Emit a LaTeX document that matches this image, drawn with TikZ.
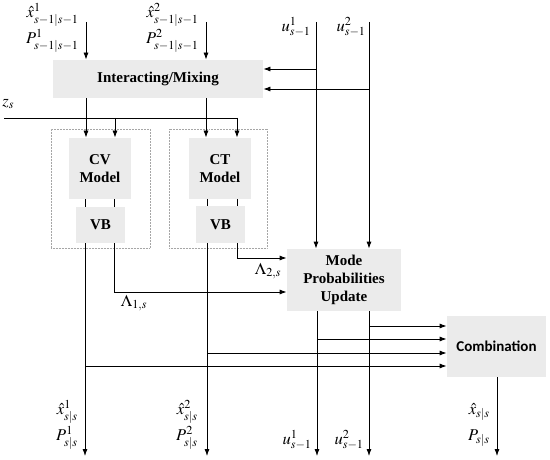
\documentclass[tikz,border=0pt]{standalone}
\usepackage{mathptmx}
\usepackage{fontspec}
\setmainfont{Liberation Serif}
\newfontfamily\cbfont{Carlito}
\usetikzlibrary{arrows.meta}
\definecolor{boxgray}{HTML}{EBEBEB}
\tikzset{
  gbox/.style={fill=boxgray, draw=none, align=center, inner sep=0pt,
    font=\fontsize{15}{18}\selectfont\bfseries},
  dotbox/.style={draw=gray!70, densely dotted, line width=0.5pt, inner sep=0pt},
  arr/.style={-{Latex[length=7pt,width=5pt]}},
  lbl/.style={inner sep=0pt, font=\fontsize{16.5}{18}\selectfont}
}
\begin{document}
\begin{tikzpicture}[x=1pt,y=-1pt,line width=0.8pt]
\useasboundingbox (0,0) rectangle (550,460);
% boxes
\node[gbox, minimum width=210pt, minimum height=38pt] (mix) at (158,79) {Interacting/Mixing};
\node[dotbox, minimum width=99pt, minimum height=119pt] (g1) at (100.5,188.5) {};
\node[dotbox, minimum width=98pt, minimum height=119pt] (g2) at (218,188.5) {};
\node[gbox, minimum width=62pt, minimum height=61pt] (cv) at (100,168.5) {CV\\Model};
\node[gbox, minimum width=49pt, minimum height=36pt] (cvb) at (100.5,225) {VB};
\node[gbox, minimum width=62pt, minimum height=61pt] (ct) at (220,168.5) {CT\\Model};
\node[gbox, minimum width=49pt, minimum height=37pt] (ctb) at (220.5,224.5) {VB};
\node[gbox, minimum width=114pt, minimum height=62pt] (mode) at (344,280) {Mode\\Probabilities\\Update};
\node[gbox, minimum width=99pt, minimum height=61pt, font=\fontsize{15}{18}\selectfont\cbfont\bfseries] (comb) at (496.5,346.5) {Combination};

% coordinates
\coordinate (x1in) at (86,22);
\coordinate (x2in) at (206,22);
\coordinate (u1top) at (316,22);
\coordinate (u2top) at (369,22);
\coordinate (u1m) at (316,69);
\coordinate (u2m) at (369,89);
\coordinate (zs) at (4,118);
\coordinate (z1) at (115,118);
\coordinate (z2) at (237,118);
\coordinate (l1) at (114,292);
\coordinate (l2) at (237,258);
\coordinate (c1) at (369,326);
\coordinate (c2) at (317,339);
\coordinate (c3) at (207,353);
\coordinate (c4) at (85,366);
\coordinate (o1) at (85,456);
\coordinate (o2) at (207,456);
\coordinate (o3) at (317,456);
\coordinate (o4) at (369,456);
\coordinate (o5) at (497,456);

% top inputs
\draw[arr] (x1in) -- (x1in |- mix.north);
\draw[arr] (x2in) -- (x2in |- mix.north);
\draw[arr] (u1top) -- (u1top |- mode.north);
\draw[arr] (u2top) -- (u2top |- mode.north);
\draw[arr] (u1m) -- (mix.east |- u1m);
\draw[arr] (u2m) -- (mix.east |- u2m);

% z_s
\draw (zs) -- (z2);
\draw[arr] (mix.south -| x1in) -- (x1in |- cv.north);
\draw[arr] (z1) -- (z1 |- cv.north);
\draw[arr] (mix.south -| x2in) -- (x2in |- ct.north);
\draw[arr] (z2) -- (z2 |- ct.north);

% model to VB
\draw (cv.south -| o1) -- (cvb.north -| o1);
\draw (cv.south -| l1) -- (cvb.north -| l1);
\draw (ct.south -| o2) -- (ctb.north -| o2);
\draw (ct.south -| l2) -- (ctb.north -| l2);

% VB outputs
\draw[arr] (cvb.south -| o1) -- (o1);
\draw[arr] (cvb.south -| l1) -- (l1) -- (mode.west |- l1);
\draw[arr] (ctb.south -| o2) -- (o2);
\draw[arr] (ctb.south -| l2) -- (l2) -- (mode.west |- l2);

% mode outputs
\draw[arr] (mode.south -| o3) -- (o3);
\draw[arr] (mode.south -| o4) -- (o4);

% to combination
\draw[arr] (c1) -- (comb.west |- c1);
\draw[arr] (c2) -- (comb.west |- c2);
\draw[arr] (c3) -- (comb.west |- c3);
\draw[arr] (c4) -- (comb.west |- c4);
\draw[arr] (comb.south -| o5) -- (o5);

% labels top
\node[lbl, anchor=east] (lx1) at (79,15) {$\hat{x}^{1}_{s-1|s-1}$};
\node[lbl, anchor=east] (lp1) at (79,41) {$P^{1}_{s-1|s-1}$};
\node[lbl, anchor=east] (lx2) at (199,15) {$\hat{x}^{2}_{s-1|s-1}$};
\node[lbl, anchor=east] (lp2) at (199,41) {$P^{2}_{s-1|s-1}$};
\node[lbl, anchor=east] (lu1) at (311,27) {$u^{1}_{s-1}$};
\node[lbl, anchor=east] (lu2) at (366,27) {$u^{2}_{s-1}$};
\node[lbl, anchor=west] (lz) at (2,104) {$z_{s}$};
\node[lbl] (lam1) at (134,303) {$\Lambda_{1,s}$};
\node[lbl] (lam2) at (268,271) {$\Lambda_{2,s}$};

% labels bottom
\node[lbl, anchor=east] (bx1) at (78,412) {$\hat{x}^{1}_{s|s}$};
\node[lbl, anchor=east] (bp1) at (78,438) {$P^{1}_{s|s}$};
\node[lbl, anchor=east] (bx2) at (198,412) {$\hat{x}^{2}_{s|s}$};
\node[lbl, anchor=east] (bp2) at (198,438) {$P^{2}_{s|s}$};
\node[lbl, anchor=east] (bu1) at (312,440) {$u^{1}_{s-1}$};
\node[lbl, anchor=east] (bu2) at (364,440) {$u^{2}_{s-1}$};
\node[lbl, anchor=east] (bx) at (490,412) {$\hat{x}_{s|s}$};
\node[lbl, anchor=east] (bp) at (490,438) {$P_{s|s}$};
\end{tikzpicture}
\end{document}
